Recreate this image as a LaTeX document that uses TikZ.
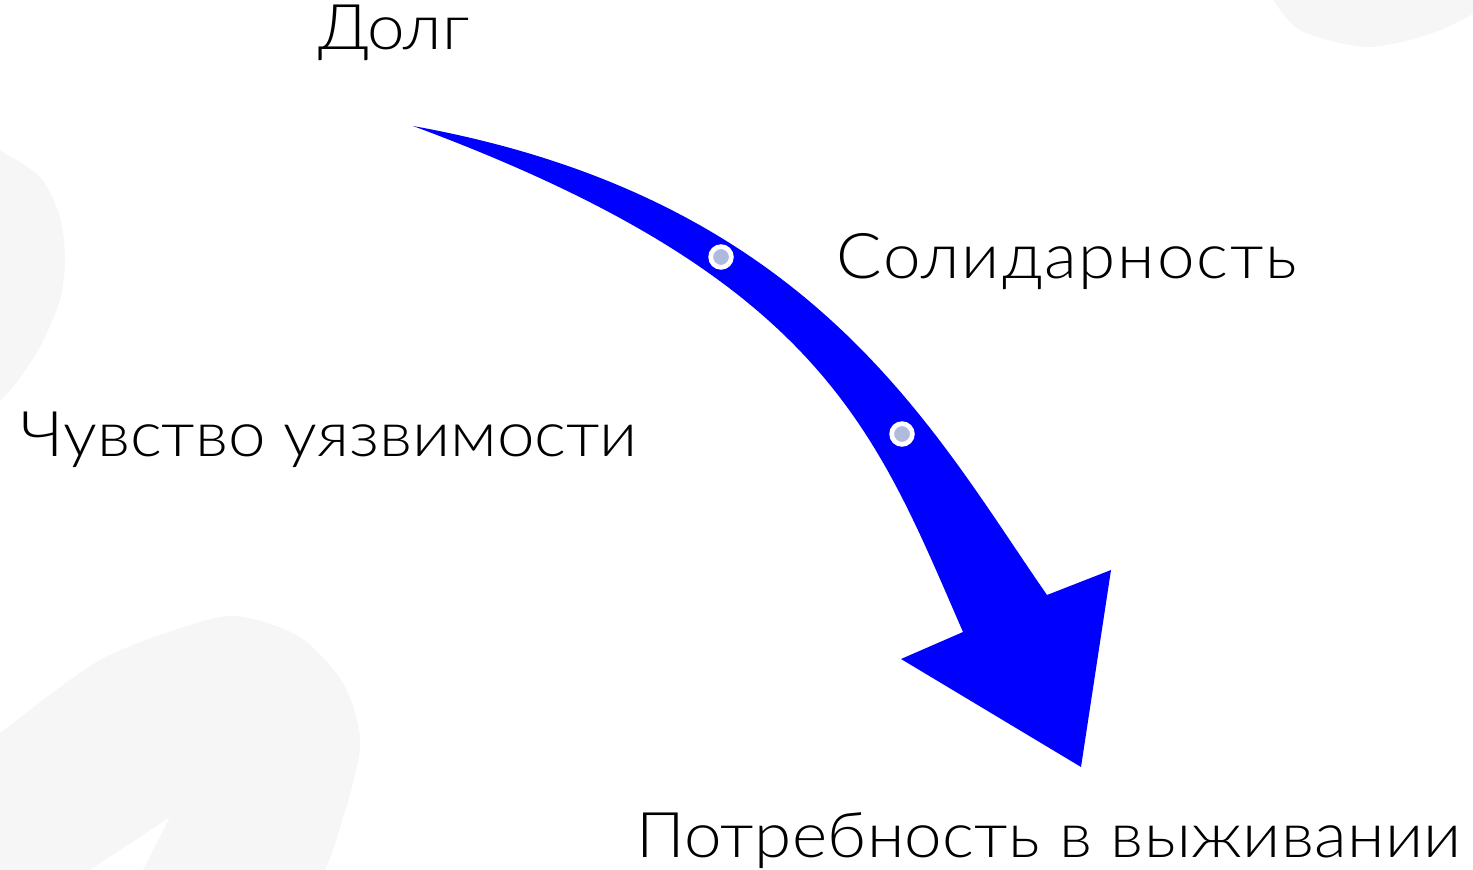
\documentclass[tikz,border=0pt]{standalone}
\usepackage{fontspec}
\setmainfont{Lato Light}[FakeStretch=1.07]
\usetikzlibrary{positioning}
\definecolor{arrowblue}{HTML}{0000FF}
\definecolor{blobgray}{HTML}{F6F6F6}
\definecolor{dotgray}{HTML}{AFBADC}
\tikzset{
    word/.style={
           anchor=base west,
           inner sep=0pt,
           font=\fontsize{17.9}{20}\selectfont,
           text=black,
           },
    pin dot/.style={
           circle,
           fill=dotgray,
           draw=white,
           line width=0.047cm,
           minimum size=0.207cm,
           inner sep=0pt,
           },
}
\begin{document}
\begin{tikzpicture}[x=0.01cm, y=-0.01cm]
      \useasboundingbox (0,0) rectangle (1473,870);
      % background blobs
      \fill[blobgray] plot[smooth] coordinates {(-10,140) (0,150) (40,177) (60,217) (65,260) (60,300) (40,347) (13,387) (-10,410)} -- cycle;
      \fill[blobgray] plot[smooth] coordinates {(-10,740) (0,733) (100,660) (200,622) (243,617) (300,637) (343,683) (360,737) (353,783) (333,850) (325,870)}
            -- (143,870) -- (170,817) -- (90,870) -- (-10,870) -- cycle;
      \fill[blobgray] plot[smooth] coordinates {(1270,-5) (1300,30) (1367,47) (1433,33) (1480,10)} -- (1480,-5) -- cycle;
      % the arrow
      \coordinate (tail) at (413,126);
      \coordinate (sh1) at (1047,595);
      \coordinate (sh2) at (963,632);
      \fill[arrowblue] (tail) .. controls (813,198) and (933,431) .. (sh1)
            -- (1111,570) -- (1081,767) -- (901,659) -- (sh2)
            .. controls (875,430) and (823,278) .. (tail) -- cycle;
      \node[pin dot] (d1) at (721,257) {};
      \node[pin dot] (d2) at (902,434) {};
      % labels
      \node[word] (dolg)  at (318,50)  {Долг};
      \node[word] (solid) at (836,278) {\addfontfeatures{LetterSpace=3}Солидарность};
      \node[word] (vuln)  at (20,456)  {Чувство уязвимости};
      \node[word] (need)  at (636,857) {\addfontfeatures{LetterSpace=0.6}Потребность в выживании};
\end{tikzpicture}
\end{document}
